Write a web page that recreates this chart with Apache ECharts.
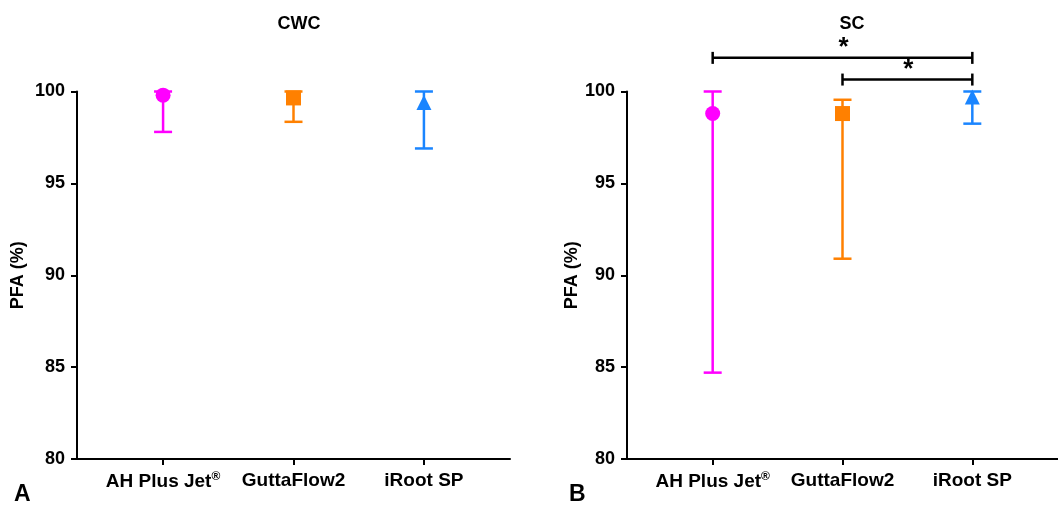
<!DOCTYPE html>
<html>
<head>
<meta charset="utf-8">
<script src="https://cdn.jsdelivr.net/npm/echarts@6/dist/echarts.min.js"></script>
<style>
  html, body { margin: 0; padding: 0; background: #fff; }
  #chart { width: 1058px; height: 506px; }
</style>
</head>
<body>
<div id="chart"></div>
<script>
// groups along the x axis
const groups = ['AH Plus Jet', 'GuttaFlow2', 'iRoot SP']
const groupX = [1, 2, 3]

// CWC panel: median and range
const cwcMedian = [99.8, 99.65, 99.4]
const cwcLow = [97.8, 98.35, 96.9]
const cwcHigh = [100, 100, 100]

// SC panel: median and range
const scMedian = [98.8, 98.8, 99.7]
const scLow = [84.7, 90.9, 98.25]
const scHigh = [100, 99.55, 100]

// significance brackets on SC: [from group, to group, height, mark]
const scBrackets = [
  [1, 3, 101.83, '*'],
  [2, 3, 100.65, '*'],
]

const colors = ['#ff00ff', '#ff8000', '#1a85ff']
const symbols = ['circle', 'rect', 'triangle']
const symbolSizes = [15, 15, 15]
const fontFamily = 'Liberation Sans, Arial, sans-serif'

const chart = echarts.init(document.getElementById('chart'))

function xAxisFor(gridIndex) {
  return {
    type: 'value',
    gridIndex,
    min: 0.34,
    max: 3.66,
    splitLine: { show: false },
    axisLine: { show: true, lineStyle: { color: '#000', width: 2 } },
    axisTick: {
      show: true,
      customValues: groupX,
      length: 6,
      lineStyle: { color: '#000', width: 2 },
    },
    axisLabel: {
      customValues: groupX,
      margin: 12,
      formatter: (v) => {
        const name = groups[Math.round(v) - 1]
        return name === 'AH Plus Jet' ? '{b|AH Plus Jet}{sup|®}' : '{b|' + name + '}'
      },
      rich: {
        b: { fontSize: 19, fontWeight: 'bold', color: '#000', fontFamily },
        sup: { fontSize: 12, fontWeight: 'bold', color: '#000', fontFamily, verticalAlign: 'top', padding: [0, 0, 10, 0] },
      },
    },
  }
}

function yAxisFor(gridIndex, nameGap) {
  return {
    type: 'value',
    gridIndex,
    min: 80,
    max: 100,
    interval: 5,
    name: 'PFA (%)',
    nameLocation: 'middle',
    nameGap,
    nameTextStyle: { fontSize: 18, fontWeight: 'bold', color: '#000', fontFamily },
    splitLine: { show: false },
    axisLine: { show: true, lineStyle: { color: '#000', width: 2 } },
    axisTick: { show: true, length: 6, lineStyle: { color: '#000', width: 2 } },
    axisLabel: { margin: 12, fontSize: 18, fontWeight: 'bold', color: '#000', fontFamily },
  }
}

function errorBars(low, high, idx) {
  return {
    type: 'custom',
    xAxisIndex: idx,
    yAxisIndex: idx,
    clip: false,
    data: groupX.map((x, i) => [x, low[i], high[i], i]),
    renderItem: (params, api) => {
      const lo = api.coord([api.value(0), api.value(1)])
      const hi = api.coord([api.value(0), api.value(2)])
      const color = colors[api.value(3)]
      const half = 9
      const style = { stroke: color, lineWidth: 2.5 }
      return {
        type: 'group',
        children: [
          { type: 'line', shape: { x1: lo[0], y1: lo[1], x2: hi[0], y2: hi[1] }, style },
          { type: 'line', shape: { x1: lo[0] - half, y1: lo[1], x2: lo[0] + half, y2: lo[1] }, style },
          { type: 'line', shape: { x1: hi[0] - half, y1: hi[1], x2: hi[0] + half, y2: hi[1] }, style },
        ],
      }
    },
  }
}

function points(median, idx) {
  return {
    type: 'scatter',
    xAxisIndex: idx,
    yAxisIndex: idx,
    clip: false,
    z: 3,
    data: groupX.map((x, i) => ({
      value: [x, median[i]],
      symbol: symbols[i],
      symbolSize: symbolSizes[i],
      itemStyle: { color: colors[i], opacity: 1 },
    })),
  }
}

const bracketSeries = {
  type: 'custom',
  xAxisIndex: 1,
  yAxisIndex: 1,
  clip: false,
  data: scBrackets,
  renderItem: (params, api) => {
    const a = api.coord([api.value(0), api.value(2)])
    const b = api.coord([api.value(1), api.value(2)])
    const style = { stroke: '#000', lineWidth: 2.5 }
    const t = 6
    return {
      type: 'group',
      children: [
        { type: 'line', shape: { x1: a[0], y1: a[1], x2: b[0], y2: b[1] }, style },
        { type: 'line', shape: { x1: a[0], y1: a[1] - t, x2: a[0], y2: a[1] + t }, style },
        { type: 'line', shape: { x1: b[0], y1: b[1] - t, x2: b[0], y2: b[1] + t }, style },
        {
          type: 'text',
          z2: 10,
          style: {
            text: scBrackets[params.dataIndex][3],
            x: (a[0] + b[0]) / 2 + 1,
            y: a[1] + 3,
            align: 'center',
            verticalAlign: 'bottom',
            fontSize: 26,
            fontWeight: 'bold',
            fontFamily,
            fill: '#000',
          },
        },
      ],
    }
  },
}

chart.setOption({
  animation: false,
  title: [
    { text: 'CWC', left: 294, top: 10, textAlign: 'center', textStyle: { fontSize: 18, fontWeight: 'bold', color: '#000', fontFamily } },
    { text: 'SC', left: 847, top: 10, textAlign: 'center', textStyle: { fontSize: 18, fontWeight: 'bold', color: '#000', fontFamily } },
    { text: 'A', left: 9, top: 478, textStyle: { fontSize: 23, fontWeight: 'bold', color: '#000', fontFamily } },
    { text: 'B', left: 564, top: 478, textStyle: { fontSize: 23, fontWeight: 'bold', color: '#000', fontFamily } },
  ],
  grid: [
    { left: 77, right: 548, top: 91.5, bottom: 47 },
    { left: 627, right: -9, top: 91.5, bottom: 47 },
  ],
  xAxis: [xAxisFor(0), xAxisFor(1)],
  yAxis: [yAxisFor(0, 50), yAxisFor(1, 45)],
  series: [
    errorBars(cwcLow, cwcHigh, 0),
    points(cwcMedian, 0),
    errorBars(scLow, scHigh, 1),
    points(scMedian, 1),
    bracketSeries,
  ],
})
</script>
</body>
</html>
